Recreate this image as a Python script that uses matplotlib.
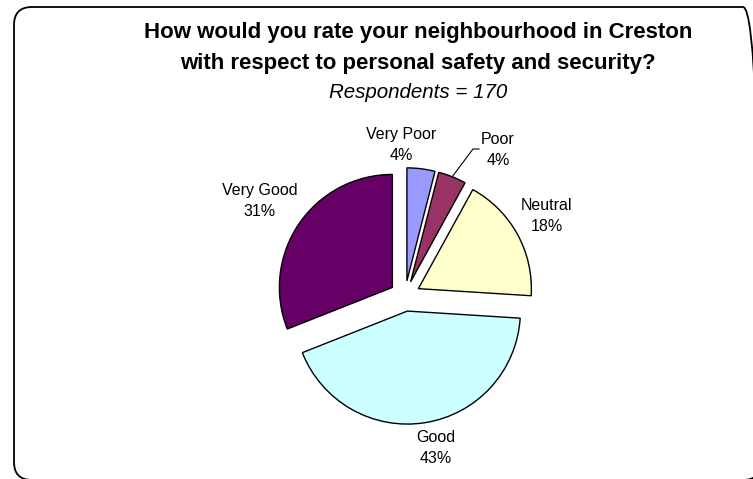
import numpy as np
import matplotlib.pyplot as plt
from matplotlib.patches import FancyBboxPatch

plt.rcParams['font.family'] = ['Liberation Sans', 'DejaVu Sans']

categories = ['Very Poor', 'Poor', 'Neutral', 'Good', 'Very Good']
shares = [4, 4, 18, 43, 31]
colors = ['#9999FF', '#993366', '#FFFFCC', '#CCFFFF', '#660066']

title_lines = ['How would you rate your neighbourhood in Creston',
               'with respect to personal safety and security?']
subtitle = 'Respondents = 170'

W, H = 753, 479
fig = plt.figure(figsize=(W / 100, H / 100), dpi=100)
ax = fig.add_axes([0, 0, 1, 1])

# rounded frame, running just past the right and bottom edges (pixel units)
frame = FancyBboxPatch((14, H - 480), 747, 473, boxstyle='round,pad=0,rounding_size=18',
                       fill=False, edgecolor='black', linewidth=1.3)

labels = [f'{c}\n{v}%' for c, v in zip(categories, shares)]
cx, cy, r = 405, H - 296, 113
# explode is in data units here, so scale by the radius
wedges, texts = ax.pie(shares, labels=labels, colors=colors, startangle=90, counterclock=False,
                       explode=[0.135 * r] * len(shares), center=(cx, cy), radius=r,
                       wedgeprops=dict(edgecolor='black', linewidth=1.0),
                       textprops=dict(fontsize=11.5, linespacing=1.5, ha='center', va='center'))
ax.add_patch(frame)

# label spots (pixel coords from the top-left)
label_xy = {'Very Poor': (401, 145), 'Poor': (498, 150), 'Neutral': (547, 216),
            'Good': (436, 448), 'Very Good': (260, 201)}
for t, c in zip(texts, categories):
    x, y = label_xy[c]
    t.set_position((x, H - y))
    t.set_ha('center')
    t.set_va('center')

# leader line for the Poor slice
w = wedges[1]
mid = np.deg2rad((w.theta1 + w.theta2) / 2)
px = w.center[0] + w.r * np.cos(mid)
py = w.center[1] + w.r * np.sin(mid)
ax.plot([px, 473, 479], [py, H - 149, H - 149], color='black', linewidth=0.8)

ax.text(418, H - 32, title_lines[0], ha='center', va='center', fontsize=16, fontweight='bold')
ax.text(418, H - 63, title_lines[1], ha='center', va='center', fontsize=16, fontweight='bold')
ax.text(418, H - 92, subtitle, ha='center', va='center', fontsize=14.8, fontstyle='italic')

ax.set_xlim(0, W)
ax.set_ylim(0, H)
ax.set_aspect('auto')
ax.axis('off')

fig.savefig('out.png', dpi=100)
